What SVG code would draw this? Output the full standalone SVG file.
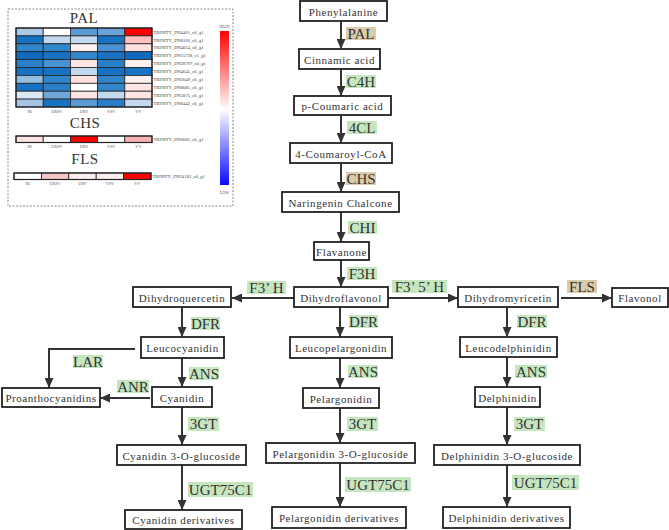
<svg xmlns="http://www.w3.org/2000/svg" width="669" height="530" viewBox="0 0 669 530">
<defs>
<marker id="ah" markerUnits="userSpaceOnUse" markerWidth="10" markerHeight="9" refX="10" refY="4.5" orient="auto">
<path d="M0,0 L10,4.5 L0,9 z" fill="#333"/>
</marker>
<linearGradient id="cbar" x1="0" y1="0" x2="0" y2="1">
<stop offset="0" stop-color="#ff0000"/>
<stop offset="0.51" stop-color="#ffffff"/>
<stop offset="1" stop-color="#0a0aff"/>
</linearGradient>
<style>
.box{fill:#fff;stroke:#222;stroke-width:1.8}
.nt{font-family:"Liberation Serif","Times New Roman",serif;font-size:11px;letter-spacing:0.55px;fill:#333;text-anchor:middle;dominant-baseline:central}
.eg{fill:#c6e6c0}
.et{fill:#d9cbab}
.el{font-family:"Liberation Serif","Times New Roman",serif;font-size:15px;fill:#333;text-anchor:middle;dominant-baseline:central}
.ar{fill:none;stroke:#333;stroke-width:2;marker-end:url(#ah)}
.cell{stroke:#222;stroke-width:0.8}
.ttl{font-family:"Liberation Serif","Times New Roman",serif;font-size:15px;fill:#333;text-anchor:middle;letter-spacing:0.5px}
.rl{font-family:"Liberation Serif","Times New Roman",serif;font-size:4.6px;fill:#444}
.cl{font-family:"Liberation Serif","Times New Roman",serif;font-size:4.2px;fill:#555;text-anchor:middle}
</style>
</defs>

<g id="heatmap">
<rect x="8" y="9" width="225" height="197" fill="#fff" stroke="#888" stroke-width="1" stroke-dasharray="2,1.5"/>
<text class="ttl" x="84" y="23">PAL</text>
<g id="pal-cells">
<rect class="cell" x="16" y="28" width="27.2" height="7.9" fill="#a9c9e8"/>
<rect class="cell" x="43.2" y="28" width="27.2" height="7.9" fill="#ffffff"/>
<rect class="cell" x="70.4" y="28" width="27.2" height="7.9" fill="#5b9bd5"/>
<rect class="cell" x="97.6" y="28" width="27.2" height="7.9" fill="#6aa3d8"/>
<rect class="cell" x="124.8" y="28" width="27.2" height="7.9" fill="#ff0000"/>

<rect class="cell" x="16" y="35.9" width="27.2" height="7.9" fill="#1872c2"/>
<rect class="cell" x="43.2" y="35.9" width="27.2" height="7.9" fill="#c3d9ef"/>
<rect class="cell" x="70.4" y="35.9" width="27.2" height="7.9" fill="#c3d9ef"/>
<rect class="cell" x="97.6" y="35.9" width="27.2" height="7.9" fill="#1872c2"/>
<rect class="cell" x="124.8" y="35.9" width="27.2" height="7.9" fill="#ffc0c0"/>

<rect class="cell" x="16" y="43.8" width="27.2" height="7.9" fill="#3185cb"/>
<rect class="cell" x="43.2" y="43.8" width="27.2" height="7.9" fill="#3185cb"/>
<rect class="cell" x="70.4" y="43.8" width="27.2" height="7.9" fill="#fff0f0"/>
<rect class="cell" x="97.6" y="43.8" width="27.2" height="7.9" fill="#4a92d2"/>
<rect class="cell" x="124.8" y="43.8" width="27.2" height="7.9" fill="#ffe0e0"/>

<rect class="cell" x="16" y="51.7" width="27.2" height="7.9" fill="#0f6abd"/>
<rect class="cell" x="43.2" y="51.7" width="27.2" height="7.9" fill="#1872c2"/>
<rect class="cell" x="70.4" y="51.7" width="27.2" height="7.9" fill="#3185cb"/>
<rect class="cell" x="97.6" y="51.7" width="27.2" height="7.9" fill="#1872c2"/>
<rect class="cell" x="124.8" y="51.7" width="27.2" height="7.9" fill="#0f6abd"/>

<rect class="cell" x="16" y="59.6" width="27.2" height="7.9" fill="#2a80c8"/>
<rect class="cell" x="43.2" y="59.6" width="27.2" height="7.9" fill="#4a92d2"/>
<rect class="cell" x="70.4" y="59.6" width="27.2" height="7.9" fill="#ffe4e4"/>
<rect class="cell" x="97.6" y="59.6" width="27.2" height="7.9" fill="#2a80c8"/>
<rect class="cell" x="124.8" y="59.6" width="27.2" height="7.9" fill="#fff0f0"/>

<rect class="cell" x="16" y="67.5" width="27.2" height="7.9" fill="#1872c2"/>
<rect class="cell" x="43.2" y="67.5" width="27.2" height="7.9" fill="#1872c2"/>
<rect class="cell" x="70.4" y="67.5" width="27.2" height="7.9" fill="#c3d9ef"/>
<rect class="cell" x="97.6" y="67.5" width="27.2" height="7.9" fill="#1872c2"/>
<rect class="cell" x="124.8" y="67.5" width="27.2" height="7.9" fill="#1872c2"/>

<rect class="cell" x="16" y="75.4" width="27.2" height="7.9" fill="#95bde2"/>
<rect class="cell" x="43.2" y="75.4" width="27.2" height="7.9" fill="#3185cb"/>
<rect class="cell" x="70.4" y="75.4" width="27.2" height="7.9" fill="#ffe0e0"/>
<rect class="cell" x="97.6" y="75.4" width="27.2" height="7.9" fill="#3185cb"/>
<rect class="cell" x="124.8" y="75.4" width="27.2" height="7.9" fill="#fff0f0"/>

<rect class="cell" x="16" y="83.3" width="27.2" height="7.9" fill="#1872c2"/>
<rect class="cell" x="43.2" y="83.3" width="27.2" height="7.9" fill="#2a80c8"/>
<rect class="cell" x="70.4" y="83.3" width="27.2" height="7.9" fill="#ffffff"/>
<rect class="cell" x="97.6" y="83.3" width="27.2" height="7.9" fill="#3185cb"/>
<rect class="cell" x="124.8" y="83.3" width="27.2" height="7.9" fill="#ffe4e4"/>

<rect class="cell" x="16" y="91.2" width="27.2" height="7.9" fill="#dbe8f5"/>
<rect class="cell" x="43.2" y="91.2" width="27.2" height="7.9" fill="#6ea6da"/>
<rect class="cell" x="70.4" y="91.2" width="27.2" height="7.9" fill="#ffe4e4"/>
<rect class="cell" x="97.6" y="91.2" width="27.2" height="7.9" fill="#c3d9ef"/>
<rect class="cell" x="124.8" y="91.2" width="27.2" height="7.9" fill="#ffe4e4"/>

<rect class="cell" x="16" y="99.1" width="27.2" height="7.9" fill="#a4c4e6"/>
<rect class="cell" x="43.2" y="99.1" width="27.2" height="7.9" fill="#1872c2"/>
<rect class="cell" x="70.4" y="99.1" width="27.2" height="7.9" fill="#5b9bd5"/>
<rect class="cell" x="97.6" y="99.1" width="27.2" height="7.9" fill="#2a7cc8"/>
<rect class="cell" x="124.8" y="99.1" width="27.2" height="7.9" fill="#c3d9ef"/>
<rect x="16" y="28" width="136" height="79" fill="none" stroke="#222" stroke-width="1.2"/>
</g>
<text class="rl" x="153.5" y="33.6">TRINITY_DN4461_c0_g1</text>
<text class="rl" x="153.5" y="41.5">TRINITY_DN8166_c0_g1</text>
<text class="rl" x="153.5" y="49.4">TRINITY_DN4054_c0_g1</text>
<text class="rl" x="153.5" y="57.3">TRINITY_DN15728_c1_g1</text>
<text class="rl" x="153.5" y="65.2">TRINITY_DN28797_c0_g1</text>
<text class="rl" x="153.5" y="73.1">TRINITY_DN4645_c0_g1</text>
<text class="rl" x="153.5" y="81.0">TRINITY_DN2049_c0_g1</text>
<text class="rl" x="153.5" y="88.9">TRINITY_DN8085_c0_g1</text>
<text class="rl" x="153.5" y="96.8">TRINITY_DN5875_c0_g1</text>
<text class="rl" x="153.5" y="104.7">TRINITY_DN8442_c0_g1</text>
<text class="cl" x="29.6" y="113">IR</text>
<text class="cl" x="56.8" y="113">URSV</text>
<text class="cl" x="84" y="113">URV</text>
<text class="cl" x="111.2" y="113">VSV</text>
<text class="cl" x="138.4" y="113">VV</text>

<text class="ttl" x="85" y="128">CHS</text>
<rect class="cell" x="16" y="136" width="27.2" height="6.5" fill="#fde2e2"/>
<rect class="cell" x="43.2" y="136" width="27.2" height="6.5" fill="#ffffff"/>
<rect class="cell" x="70.4" y="136" width="27.2" height="6.5" fill="#ff0000"/>
<rect class="cell" x="97.6" y="136" width="27.2" height="6.5" fill="#ffffff"/>
<rect class="cell" x="124.8" y="136" width="27.2" height="6.5" fill="#f7b2b2"/>
<rect x="16" y="136" width="136" height="6.5" fill="none" stroke="#222" stroke-width="1.2"/>
<text class="rl" x="153.5" y="140.8">TRINITY_DN6085_c0_g1</text>
<text class="cl" x="29.6" y="147.5">IR</text>
<text class="cl" x="56.8" y="147.5">URSV</text>
<text class="cl" x="84" y="147.5">URV</text>
<text class="cl" x="111.2" y="147.5">VSV</text>
<text class="cl" x="138.4" y="147.5">VV</text>

<text class="ttl" x="85" y="164">FLS</text>
<rect class="cell" x="14" y="173" width="27.4" height="6.5" fill="#ffffff"/>
<rect class="cell" x="41.4" y="173" width="27.4" height="6.5" fill="#f6c6c6"/>
<rect class="cell" x="68.8" y="173" width="27.4" height="6.5" fill="#fff0f0"/>
<rect class="cell" x="96.2" y="173" width="27.4" height="6.5" fill="#fff0f0"/>
<rect class="cell" x="123.6" y="173" width="27.4" height="6.5" fill="#ff0000"/>
<rect x="14" y="173" width="137" height="6.5" fill="none" stroke="#222" stroke-width="1.2"/>
<text class="rl" x="152.5" y="177.8">TRINITY_DN24183_c0_g1</text>
<text class="cl" x="27.7" y="185">IR</text>
<text class="cl" x="55.1" y="185">URSV</text>
<text class="cl" x="82.5" y="185">URV</text>
<text class="cl" x="109.9" y="185">VSV</text>
<text class="cl" x="137.3" y="185">VV</text>

<rect x="220" y="31" width="9" height="154" fill="url(#cbar)"/>
<text class="cl" x="224.5" y="28">HIGH</text>
<text class="cl" x="224.5" y="194">LOW</text>
</g>

<g id="connectors">
<line class="ar" x1="341" y1="21" x2="341" y2="49"/>
<line class="ar" x1="341" y1="69" x2="341" y2="96"/>
<line class="ar" x1="341" y1="115" x2="341" y2="143"/>
<line class="ar" x1="341" y1="163" x2="341" y2="192"/>
<line class="ar" x1="341" y1="212" x2="341" y2="242"/>
<line class="ar" x1="341" y1="260" x2="341" y2="287"/>
<line class="ar" x1="294" y1="298" x2="232" y2="298"/>
<line class="ar" x1="388" y1="298" x2="458" y2="298"/>
<line class="ar" x1="561" y1="298" x2="612" y2="298"/>
<line class="ar" x1="182" y1="307" x2="182" y2="337"/>
<line class="ar" x1="182" y1="358" x2="182" y2="387"/>
<line class="ar" x1="182" y1="407" x2="182" y2="445"/>
<line class="ar" x1="182" y1="465" x2="182" y2="510"/>
<line class="ar" x1="340" y1="307" x2="340" y2="337"/>
<line class="ar" x1="340" y1="358" x2="340" y2="388"/>
<line class="ar" x1="340" y1="408" x2="340" y2="443"/>
<line class="ar" x1="340" y1="463" x2="340" y2="507"/>
<line class="ar" x1="507" y1="307" x2="507" y2="337"/>
<line class="ar" x1="507" y1="357" x2="507" y2="387"/>
<line class="ar" x1="507" y1="407" x2="507" y2="445"/>
<line class="ar" x1="507" y1="465" x2="507" y2="507"/>
<polyline class="ar" points="135,349 49,349 49,388"/>
<line class="ar" x1="150" y1="398" x2="100" y2="398"/>
</g>

<g id="enzymes">
<rect class="et" x="346" y="27" width="30" height="13"/><text class="el" x="361" y="33.8">PAL</text>
<rect class="eg" x="346" y="75" width="30" height="13"/><text class="el" x="361" y="81.8">C4H</text>
<rect class="eg" x="347" y="121" width="30" height="13"/><text class="el" x="362" y="127.8">4CL</text>
<rect class="et" x="346" y="172" width="30" height="13"/><text class="el" x="361" y="178.8">CHS</text>
<rect class="eg" x="348" y="221" width="29" height="13"/><text class="el" x="362.5" y="227.8">CHI</text>
<rect class="eg" x="347" y="267" width="30" height="13"/><text class="el" x="362" y="273.8">F3H</text>
<rect class="eg" x="247" y="281" width="39" height="13"/><text class="el" x="266.5" y="287.8">F3’ H</text>
<rect class="eg" x="392" y="280" width="55" height="13"/><text class="el" x="419.5" y="286.8">F3’ 5’ H</text>
<rect class="et" x="567" y="280" width="30" height="13"/><text class="el" x="582" y="286.8">FLS</text>
<rect class="eg" x="191" y="317" width="29" height="13"/><text class="el" x="205.5" y="323.8">DFR</text>
<rect class="eg" x="349" y="315" width="29" height="13"/><text class="el" x="363.5" y="321.8">DFR</text>
<rect class="eg" x="517" y="315" width="30" height="13"/><text class="el" x="532" y="321.8">DFR</text>
<rect class="eg" x="73" y="355" width="30" height="13"/><text class="el" x="88" y="361.8">LAR</text>
<rect class="eg" x="189" y="367" width="30" height="13"/><text class="el" x="204" y="373.8">ANS</text>
<rect class="eg" x="348" y="365" width="30" height="13"/><text class="el" x="363" y="371.8">ANS</text>
<rect class="eg" x="515" y="365" width="32" height="13"/><text class="el" x="531" y="371.8">ANS</text>
<rect class="eg" x="117" y="380" width="32" height="13"/><text class="el" x="133" y="386.8">ANR</text>
<rect class="eg" x="188" y="417" width="31" height="14"/><text class="el" x="203.5" y="424.3">3GT</text>
<rect class="eg" x="347" y="417" width="31" height="14"/><text class="el" x="362.5" y="424.3">3GT</text>
<rect class="eg" x="514" y="417" width="31" height="14"/><text class="el" x="529.5" y="424.3">3GT</text>
<rect class="eg" x="188" y="482" width="65" height="15"/><text class="el" x="220.5" y="489.8">UGT75C1</text>
<rect class="eg" x="345" y="477" width="66" height="15"/><text class="el" x="378" y="484.8">UGT75C1</text>
<rect class="eg" x="512" y="475" width="67" height="15"/><text class="el" x="545.5" y="482.8">UGT75C1</text>
</g>

<g id="phenylalanine"><rect class="box" x="300" y="1" width="87" height="20"/><text class="nt" x="343.5" y="11.5">Phenylalanine</text></g>
<g id="cinnamic-acid"><rect class="box" x="299" y="49" width="81" height="20"/><text class="nt" x="339.5" y="59.5">Cinnamic acid</text></g>
<g id="p-coumaric-acid"><rect class="box" x="294" y="96" width="97" height="19"/><text class="nt" x="342.5" y="106">p-Coumaric acid</text></g>
<g id="coumaroyl-coa"><rect class="box" x="290" y="143" width="102" height="20"/><text class="nt" x="341" y="153.5">4-Coumaroyl-CoA</text></g>
<g id="naringenin-chalcone"><rect class="box" x="282" y="192" width="117" height="20"/><text class="nt" x="340.5" y="202.5">Naringenin Chalcone</text></g>
<g id="flavanone"><rect class="box" x="314" y="242" width="55" height="18"/><text class="nt" x="341.5" y="251.5">Flavanone</text></g>
<g id="dihydroflavonol"><rect class="box" x="294" y="287" width="94" height="20"/><text class="nt" x="341" y="297.5">Dihydroflavonol</text></g>
<g id="dihydroquercetin"><rect class="box" x="133" y="287" width="98" height="20"/><text class="nt" x="182" y="297.5">Dihydroquercetin</text></g>
<g id="dihydromyricetin"><rect class="box" x="458" y="287" width="100" height="20"/><text class="nt" x="508" y="297.5">Dihydromyricetin</text></g>
<g id="flavonol"><rect class="box" x="612" y="288" width="56" height="19"/><text class="nt" x="640" y="298">Flavonol</text></g>
<g id="leucocyanidin"><rect class="box" x="141" y="337" width="83" height="21"/><text class="nt" x="182.5" y="348">Leucocyanidin</text></g>
<g id="leucopelargonidin"><rect class="box" x="290" y="337" width="102" height="21"/><text class="nt" x="341" y="348">Leucopelargonidin</text></g>
<g id="leucodelphinidin"><rect class="box" x="460" y="337" width="97" height="20"/><text class="nt" x="508.5" y="347.5">Leucodelphinidin</text></g>
<g id="proanthocyanidins"><rect class="box" x="2" y="388" width="98" height="19"/><text class="nt" x="51" y="398">Proanthocyanidins</text></g>
<g id="cyanidin"><rect class="box" x="152" y="387" width="60" height="20"/><text class="nt" x="182" y="397.5">Cyanidin</text></g>
<g id="pelargonidin"><rect class="box" x="303" y="388" width="76" height="20"/><text class="nt" x="341" y="398.5">Pelargonidin</text></g>
<g id="delphinidin"><rect class="box" x="475" y="387" width="65" height="20"/><text class="nt" x="507.5" y="397.5">Delphinidin</text></g>
<g id="cyanidin-3-o-glucoside"><rect class="box" x="117" y="445" width="129" height="20"/><text class="nt" x="181.5" y="455.5">Cyanidin 3-O-glucoside</text></g>
<g id="pelargonidin-3-o-glucoside"><rect class="box" x="266" y="443" width="149" height="20"/><text class="nt" x="340.5" y="453.5">Pelargonidin 3-O-glucoside</text></g>
<g id="delphinidin-3-o-glucoside"><rect class="box" x="434" y="445" width="146" height="20"/><text class="nt" x="507" y="455.5">Delphinidin 3-O-glucoside</text></g>
<g id="cyanidin-derivatives"><rect class="box" x="125" y="510" width="117" height="19"/><text class="nt" x="183.5" y="520">Cyanidin derivatives</text></g>
<g id="pelargonidin-derivatives"><rect class="box" x="272" y="507" width="134" height="21"/><text class="nt" x="339" y="518">Pelargonidin derivatives</text></g>
<g id="delphinidin-derivatives"><rect class="box" x="443" y="507" width="127" height="21"/><text class="nt" x="506.5" y="518">Delphinidin derivatives</text></g>
</svg>
